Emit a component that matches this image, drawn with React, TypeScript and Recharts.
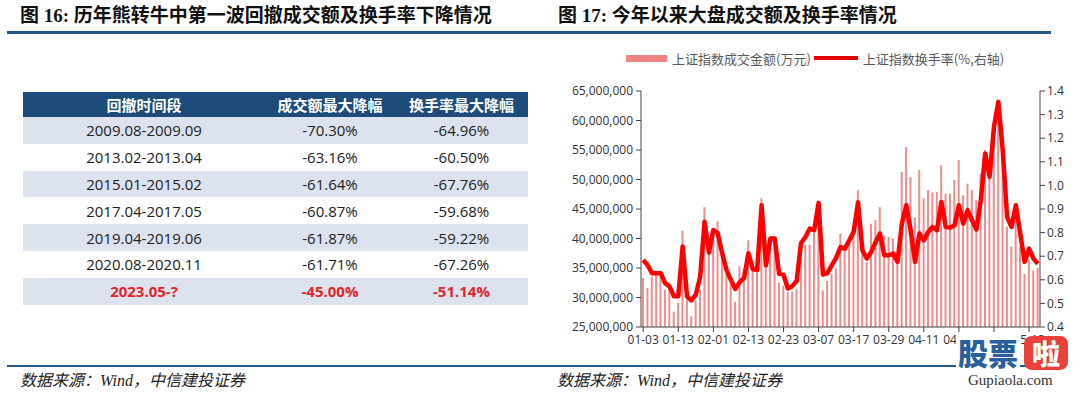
import { Bar, ComposedChart, Line, XAxis, YAxis } from 'recharts';

// trading days 2023-01-03 .. 2023-05-22
const dates = [
  '01-03', '01-04', '01-05', '01-06', '01-09', '01-10', '01-11', '01-12', '01-13', '01-16',
  '01-17', '01-18', '01-19', '01-20', '01-30', '01-31', '02-01', '02-02', '02-03', '02-06',
  '02-07', '02-08', '02-09', '02-10', '02-13', '02-14', '02-15', '02-16', '02-17', '02-20',
  '02-21', '02-22', '02-23', '02-24', '02-27', '02-28', '03-01', '03-02', '03-03', '03-06',
  '03-07', '03-08', '03-09', '03-10', '03-13', '03-14', '03-15', '03-16', '03-17', '03-20',
  '03-21', '03-22', '03-23', '03-24', '03-27', '03-28', '03-29', '03-30', '03-31', '04-03',
  '04-04', '04-06', '04-07', '04-10', '04-11', '04-12', '04-13', '04-14', '04-17', '04-18',
  '04-19', '04-20', '04-21', '04-24', '04-25', '04-26', '04-27', '04-28', '05-04', '05-05',
  '05-08', '05-09', '05-10', '05-11', '05-12', '05-15', '05-16', '05-17', '05-18', '05-19',
  '05-22',
];

// 上证指数成交金额 (万元)
const amount = [
  33300000, 31600000, 33500000, 34000000, 33500000, 31300000, 31900000, 27600000, 29100000, 41300000,
  31500000, 26800000, 29500000, 31300000, 45300000, 38100000, 41500000, 42900000, 38600000, 34700000,
  32400000, 29300000, 35300000, 34900000, 39700000, 34500000, 34500000, 46800000, 37000000, 40000000,
  39000000, 32500000, 32000000, 31000000, 31000000, 31500000, 38600000, 38900000, 38900000, 41000000,
  46300000, 31200000, 32800000, 34000000, 35000000, 40800000, 38900000, 40000000, 41400000, 48200000,
  37500000, 36000000, 42500000, 43100000, 45300000, 40500000, 40300000, 40000000, 35700000, 51300000,
  55500000, 50400000, 43600000, 51600000, 46800000, 48200000, 47800000, 47900000, 52400000, 47600000,
  47600000, 49900000, 53300000, 47300000, 49300000, 48200000, 46500000, 51000000, 55000000, 53000000,
  59000000, 62000000, 57000000, 42000000, 38600000, 43000000, 38600000, 34000000, 36500000, 34600000,
  35000000,
];

// 上证指数换手率 (%)
const turnover = [
  0.684, 0.663, 0.628, 0.628, 0.628, 0.586, 0.572, 0.530, 0.530, 0.741,
  0.530, 0.513, 0.537, 0.614, 0.846, 0.716, 0.811, 0.797, 0.713, 0.642,
  0.600, 0.561, 0.590, 0.607, 0.712, 0.645, 0.642, 0.916, 0.661, 0.775,
  0.775, 0.625, 0.622, 0.563, 0.573, 0.595, 0.756, 0.781, 0.817, 0.810,
  0.926, 0.622, 0.628, 0.661, 0.693, 0.739, 0.732, 0.767, 0.803, 0.928,
  0.725, 0.690, 0.718, 0.760, 0.796, 0.704, 0.704, 0.711, 0.676, 0.838,
  0.916, 0.810, 0.676, 0.796, 0.767, 0.803, 0.824, 0.810, 0.930, 0.824,
  0.821, 0.831, 0.916, 0.838, 0.895, 0.852, 0.813, 0.937, 1.135, 1.036,
  1.248, 1.354, 1.149, 0.866, 0.824, 0.916, 0.796, 0.676, 0.732, 0.690,
  0.668,
];

const leftTicks = [25000000, 30000000, 35000000, 40000000, 45000000, 50000000, 55000000, 60000000, 65000000];
const rightTicks = [0.4, 0.5, 0.6, 0.7, 0.8, 0.9, 1.0, 1.1, 1.2, 1.3, 1.4];

const tableHeader = ['回撤时间段', '成交额最大降幅', '换手率最大降幅'];
const periods = ['2009.08-2009.09', '2013.02-2013.04', '2015.01-2015.02', '2017.04-2017.05', '2019.04-2019.06', '2020.08-2020.11', '2023.05-?'];
const amountDrops = ['-70.30%', '-63.16%', '-61.64%', '-60.87%', '-61.87%', '-61.71%', '-45.00%'];
const turnoverDrops = ['-64.96%', '-60.50%', '-67.76%', '-59.68%', '-59.22%', '-67.26%', '-51.14%'];

const data = dates.map((d, i) => ({ date: d, amount: amount[i], turnover: turnover[i] }));

const titleFont = "'Liberation Serif', 'Noto Sans CJK SC', serif";
const tableFont = "'Open Sans', 'Noto Sans CJK SC', sans-serif";
const axisFont = "'Open Sans', 'Noto Sans CJK SC', sans-serif";
const RULE = '#24598A';
const HEAD = '#1D4B7A';
const SHADE = '#DCE3EE';
const RED = '#E0262B';

const colW = [242, 130, 133];

function Table() {
  return (
    <table style={{ position: 'absolute', left: 23, top: 92, borderCollapse: 'collapse', fontFamily: tableFont, fontSize: 15, tableLayout: 'fixed', width: 505 }}>
      <colgroup>
        {colW.map((w, i) => <col key={i} style={{ width: w }} />)}
      </colgroup>
      <thead>
        <tr style={{ height: 25, background: HEAD, color: '#fff' }}>
          {tableHeader.map((h) => (
            <th key={h} style={{ padding: 0, fontWeight: 700, textAlign: 'center' }}>{h}</th>
          ))}
        </tr>
      </thead>
      <tbody>
        {periods.map((p, i) => {
          const last = i === periods.length - 1;
          return (
            <tr key={p} style={{ height: 26.8, background: i % 2 === 0 ? SHADE : '#fff', color: last ? RED : '#222', fontWeight: last ? 700 : 400 }}>
              <td style={{ padding: 0, textAlign: 'center' }}>{p}</td>
              <td style={{ padding: 0, textAlign: 'center' }}>{amountDrops[i]}</td>
              <td style={{ padding: 0, textAlign: 'center' }}>{turnoverDrops[i]}</td>
            </tr>
          );
        })}
      </tbody>
    </table>
  );
}

function ChartLegend() {
  const txt = { fontFamily: "'Noto Sans CJK SC', sans-serif", fontSize: 13, color: '#595959', whiteSpace: 'nowrap' as const };
  return (
    <div style={{ position: 'absolute', left: 626, top: 49, height: 18, display: 'flex', alignItems: 'center' }}>
      <div style={{ width: 41, height: 7, background: '#F08585', marginRight: 5 }} />
      <span style={txt}>上证指数成交金额(万元)</span>
      <div style={{ width: 44, height: 4, background: '#E00000', margin: '0 5px 0 3px' }} />
      <span style={txt}>上证指数换手率(%,右轴)</span>
    </div>
  );
}

// site stamp in the bottom-right corner, covers the last x labels as in the source
function Watermark() {
  return (
    <div style={{ position: 'absolute', left: 956, top: 334, width: 116, height: 60 }}>
      <div style={{ position: 'absolute', left: 0, top: 0, padding: '0 2px', background: '#fff', fontFamily: "'Noto Sans CJK SC', sans-serif", fontWeight: 900, fontSize: 30, lineHeight: '36px', color: '#2B5E9E' }}>股票</div>
      <div style={{ position: 'absolute', left: 68, top: 2, width: 44, height: 34, borderRadius: 8, background: '#E8403A', color: '#fff', textAlign: 'center', fontFamily: "'Noto Sans CJK SC', sans-serif", fontWeight: 900, fontSize: 28, lineHeight: '34px' }}>啦</div>
      <div style={{ position: 'absolute', left: 12, top: 38, fontFamily: "'Liberation Serif', serif", fontSize: 15, color: '#333' }}>Gupiaola.com</div>
    </div>
  );
}

export default function App() {
  const fmt = (v: number) => v.toLocaleString('en-US');
  return (
    <div style={{ position: 'relative', width: 1080, height: 394, background: '#fff', overflow: 'hidden' }}>
      <style>{'body{margin:0}'}</style>
      <div style={{ position: 'absolute', left: 20, top: 4, fontFamily: titleFont, fontWeight: 700, fontSize: 19, lineHeight: '24px', color: '#111', whiteSpace: 'nowrap' }}>
        图 16: 历年熊转牛中第一波回撤成交额及换手率下降情况
      </div>
      <div style={{ position: 'absolute', left: 558, top: 4, fontFamily: titleFont, fontWeight: 700, fontSize: 19, lineHeight: '24px', color: '#111', whiteSpace: 'nowrap' }}>
        图 17: 今年以来大盘成交额及换手率情况
      </div>
      <div style={{ position: 'absolute', left: 7, top: 31, width: 1044, height: 3, background: RULE }} />

      <Table />
      <ChartLegend />

      <div style={{ position: 'absolute', left: 545, top: 40 }}>
        <ComposedChart width={530} height={315} data={data} margin={{ top: 51, right: 0, bottom: 0, left: 0 }}>
          <XAxis
            dataKey="date"
            interval={7}
            height={28}
            tickSize={5}
            tickMargin={3}
            axisLine={{ stroke: '#444' }}
            tickLine={{ stroke: '#444' }}
            tick={{ fill: '#333', fontSize: 12, fontFamily: axisFont }}
          />
          <YAxis
            yAxisId="left"
            domain={[25000000, 65000000]}
            ticks={leftTicks}
            width={96}
            tickSize={5}
            tickMargin={3}
            tickFormatter={fmt}
            axisLine={{ stroke: '#444' }}
            tickLine={{ stroke: '#444' }}
            tick={{ fill: '#333', fontSize: 12, fontFamily: axisFont }}
          />
          <YAxis
            yAxisId="right"
            orientation="right"
            domain={[0.4, 1.4]}
            ticks={rightTicks}
            width={35}
            tickSize={5}
            tickMargin={2}
            tickFormatter={(v: number) => v.toFixed(1)}
            axisLine={{ stroke: '#444' }}
            tickLine={{ stroke: '#444' }}
            tick={{ fill: '#333', fontSize: 12, fontFamily: axisFont }}
          />
          <Bar yAxisId="left" dataKey="amount" fill="#F08C8C" barSize={2} isAnimationActive={false} />
          <Line yAxisId="right" dataKey="turnover" type="linear" stroke="#FF0000" strokeWidth={4.5} strokeLinejoin="round" dot={false} activeDot={false} isAnimationActive={false} />
        </ComposedChart>
      </div>

      <div style={{ position: 'absolute', left: 7, top: 365, width: 1044, height: 2, background: RULE }} />
      <div style={{ position: 'absolute', left: 20, top: 370, fontFamily: "'Liberation Serif', 'Noto Sans CJK SC', serif", fontStyle: 'italic', fontSize: 16, lineHeight: '22px', color: '#222', whiteSpace: 'nowrap' }}>
        数据来源：Wind，中信建投证券
      </div>
      <div style={{ position: 'absolute', left: 557, top: 370, fontFamily: "'Liberation Serif', 'Noto Sans CJK SC', serif", fontStyle: 'italic', fontSize: 16, lineHeight: '22px', color: '#222', whiteSpace: 'nowrap' }}>
        数据来源：Wind，中信建投证券
      </div>
      <Watermark />
    </div>
  );
}
